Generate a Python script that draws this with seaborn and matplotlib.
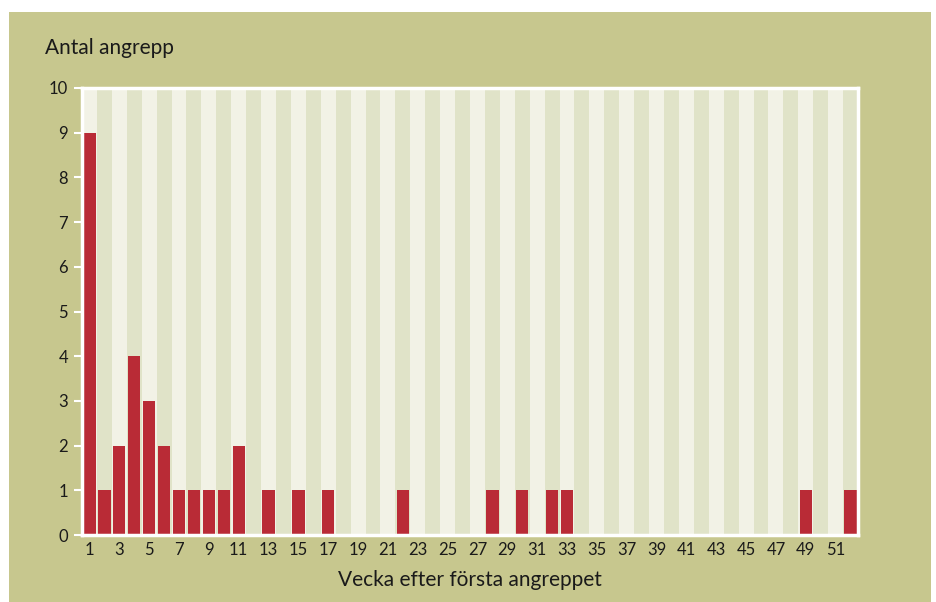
import matplotlib
matplotlib.use("Agg")
import matplotlib.pyplot as plt
import seaborn as sns
import pandas as pd
from matplotlib.patches import Rectangle

weeks = list(range(1, 53))
attacks = [9, 1, 2, 4, 3, 2, 1, 1, 1, 1, 2, 0, 1, 0, 1, 0, 1, 0, 0, 0,
           0, 1, 0, 0, 0, 0, 0, 1, 0, 1, 0, 1, 1, 0, 0, 0, 0, 0, 0, 0,
           0, 0, 0, 0, 0, 0, 0, 0, 1, 0, 0, 1]
y_ticks = list(range(0, 11))
x_tick_labels = [str(w) for w in weeks if w % 2 == 1]
title_text = "Antal angrepp"
xlabel_text = "Vecka efter första angreppet"

BG = "#c7c78e"
RED = "#b92b36"
LIGHT = "#f2f2e6"
DARK = "#e0e3c8"

sns.set_theme(style="white")
plt.rcParams['font.family'] = ['Lato', 'DejaVu Sans']

fig = plt.figure(figsize=(9.36, 6.02), dpi=100, facecolor="white")
bg = Rectangle((9/936, 0), (931-9)/936, (602-12)/602,
               transform=fig.transFigure, facecolor=BG,
               edgecolor="none", zorder=-10)
fig.add_artist(bg)

ax = fig.add_axes([82/936, (602-535)/602, (858-82)/936, (535-88)/602])
ax.set_zorder(5)
ax.set_facecolor("white")

df = pd.DataFrame({"week": [str(w) for w in weeks], "attacks": attacks,
                   "full": [10] * len(weeks)})
stripe_colors = [LIGHT if w % 2 == 1 else DARK for w in weeks]
sns.barplot(data=df, x="week", y="full", hue="week", palette=stripe_colors,
            width=1.0, legend=False, ax=ax, linewidth=0, zorder=1,
            saturation=1)
sns.barplot(data=df, x="week", y="attacks", color=RED, width=0.82,
            ax=ax, linewidth=0, zorder=2, saturation=1)

ax.set_xlim(-0.5, len(weeks) - 0.5)
ax.set_ylim(0, 10.0)
ax.set_yticks(y_ticks)
ax.set_yticklabels([str(v) for v in y_ticks], fontsize=12, color="#1a1a1a")
ax.set_xticks([i for i, w in enumerate(weeks) if w % 2 == 1])
ax.set_xticklabels(x_tick_labels, fontsize=12, color="#1a1a1a")
ax.tick_params(axis="y", length=6, width=1.5, color="white", pad=4, left=True)
ax.tick_params(axis="x", length=0, pad=5)
for s in ax.spines.values():
    s.set_visible(True)
    s.set_color("white")
    s.set_linewidth(2.5)
ax.set_xlabel(xlabel_text, fontsize=15, color="#1a1a1a", labelpad=9)
ax.set_ylabel("")
fig.text(45/936, 1 - 48/602, title_text, fontsize=15, color="#1a1a1a",
         ha="left", va="center")

fig.savefig("out.png", dpi=100, facecolor=fig.get_facecolor())
